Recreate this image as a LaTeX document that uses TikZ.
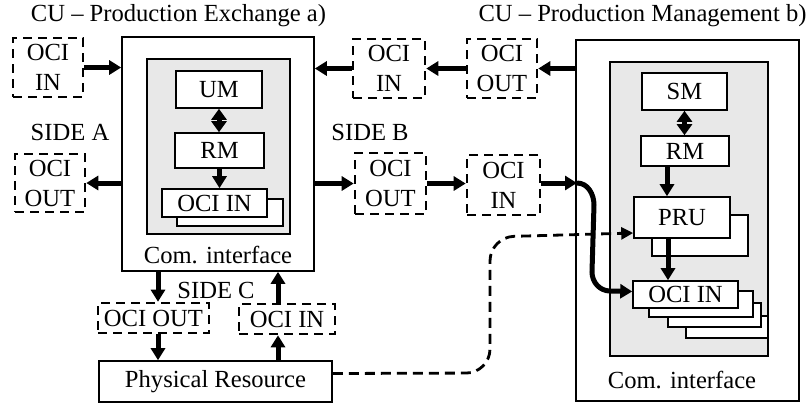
\documentclass[tikz,border=0pt]{standalone}
\usepackage{fontspec}
\setmainfont{Liberation Serif}
\usepackage{tikz}
\usetikzlibrary{arrows.meta}
\definecolor{ciGray}{HTML}{E8E8E8}
\tikzset{
  ociBox/.style={draw, line width=1.3pt, dash pattern=on 4.5pt off 3pt, inner sep=0pt, align=center},
  plainBox/.style={draw, line width=0.8pt, fill=white, inner sep=0pt},
  thickArrow/.style={line width=2.5pt, -{Triangle[length=6pt,width=7pt]}},
  bothArrow/.style={line width=2.5pt, {Triangle[length=5.5pt,width=7.5pt]}-{Triangle[length=5.5pt,width=7.5pt]}},
  dashArrow/.style={line width=1.4pt, dash pattern=on 5pt off 3pt, -{Triangle[length=6pt,width=6pt]}},
}

\begin{document}
\begin{tikzpicture}[x=0.5pt, y=-0.5pt, font=\fontsize{12.3}{15}\selectfont]
  \path[fill=white, use as bounding box] (0,0) rectangle (811,403);

  % Titles
  \node (titleA) at (178.5,16) {CU -- Production Exchange a)};
  \node (titleB) at (642.5,16) {CU -- Production Management b)};

  % CU a)
  \node[plainBox, minimum width=96pt, minimum height=117pt] (cuA) at (218,154) {};
  \node[plainBox, fill=ciGray, minimum width=71.5pt, minimum height=87.5pt] (areaA) at (218.5,146.5) {};
  \node[plainBox, minimum width=43pt, minimum height=18.5pt] (umA) at (219,89.5) {UM};
  \node[plainBox, minimum width=44.5pt, minimum height=17.5pt] (rmA) at (219.5,150.5) {RM};
  \node[plainBox, minimum width=53pt, minimum height=13.5pt] (ociBackA) at (230,212.5) {};
  \node[plainBox, minimum width=52.5pt, minimum height=14pt] (ociA) at (214.5,203) {OCI IN};
  \node (comA) at (218,255) {Com. interface};

  % Side A
  \node[ociBox, minimum width=35pt, minimum height=29.5pt] (inA) at (48,67.5) {OCI\\IN};
  \node (sideA) at (70,132) {SIDE A};
  \node[ociBox, minimum width=35pt, minimum height=29pt] (outA) at (50,183) {OCI\\OUT};

  % Side B
  \node[ociBox, minimum width=36pt, minimum height=29.5pt] (inTop) at (389,68.5) {OCI\\IN};
  \node[ociBox, minimum width=35pt, minimum height=29.5pt] (outTop) at (502,68.5) {OCI\\OUT};
  \node (sideB) at (370,132) {SIDE B};
  \node[ociBox, minimum width=35.5pt, minimum height=30.5pt] (outB) at (390.5,183.5) {OCI\\OUT};
  \node[ociBox, minimum width=36.5pt, minimum height=30pt] (inB) at (503.5,185) {OCI\\IN};

  % Side C
  \node (sideC) at (216,290) {SIDE C};
  \node[ociBox, minimum width=55.5pt, minimum height=15pt] (outC) at (153.5,318) {OCI OUT};
  \node[ociBox, minimum width=48pt, minimum height=15pt] (inC) at (287,319) {OCI IN};
  \node[plainBox, minimum width=116.5pt, minimum height=20.5pt] (res) at (215.5,381.5) {Physical Resource};

  % CU b)
  \node[plainBox, minimum width=111.5pt, minimum height=180.5pt] (cuB) at (687.5,220.5) {};
  \node[plainBox, fill=ciGray, minimum width=79pt, minimum height=147pt] (areaB) at (689,209) {};
  \node[plainBox, minimum width=42.5pt, minimum height=18.5pt] (smB) at (684.5,91.5) {SM};
  \node[plainBox, minimum width=44pt, minimum height=15pt] (rmB) at (685,151) {RM};
  \node[plainBox, minimum width=48pt, minimum height=20.5pt] (pruBackB) at (700,235.5) {};
  \node[plainBox, minimum width=48pt, minimum height=20.5pt] (pruB) at (682,217.5) {PRU};
  \node[plainBox, minimum width=41pt, minimum height=11pt] (ociBack3) at (727,327) {};
  \node[plainBox, minimum width=46.5pt, minimum height=12pt] (ociBack2) at (714.5,315) {};
  \node[plainBox, minimum width=52pt, minimum height=13pt] (ociBack1) at (701,304) {};
  \node[plainBox, minimum width=52.5pt, minimum height=13.5pt] (ociB) at (685.5,294.5) {OCI IN};
  \node (comB) at (682,380) {Com. interface};

  % Inner arrows
  \draw[bothArrow] (umA.south) -- (umA.south |- rmA.north);
  \draw[thickArrow] (rmA.south) -- (rmA.south |- ociA.north);
  \draw[bothArrow] (smB.south) -- (smB.south |- rmB.north);
  \coordinate (rmBout) at ([xshift=-9pt]rmB.south);
  \draw[thickArrow] (rmBout) -- (rmBout |- pruB.north);
  \coordinate (pruOut) at ([xshift=-7pt]pruB.south);
  \draw[thickArrow] (pruOut) -- (pruOut |- ociB.north);

  % Side A and B links
  \draw[thickArrow] (inA.east) -- (inA.east -| cuA.west);
  \draw[thickArrow] (cuA.west |- outA.east) -- (outA.east);
  \draw[thickArrow] (inTop.west) -- (inTop.west -| cuA.east);
  \draw[thickArrow] (outTop.west) -- (inTop.east);
  \draw[thickArrow] (cuB.west |- outTop.east) -- (outTop.east);
  \draw[thickArrow] (cuA.east |- outB.west) -- (outB.west);
  \draw[thickArrow] (outB.east) -- (inB.west |- outB.east);
  \coordinate (kink) at (577,183);
  \draw[thickArrow] (inB.east |- kink) -- (kink);
  \draw[thickArrow] (kink) to[out=0,in=90] (594,205) -- (592,272) to[out=-90,in=180] (610,291) -- ([yshift=1.5pt]ociB.west);

  % Side C links
  \coordinate (downC) at (158,0);
  \coordinate (upC) at (278,0);
  \draw[thickArrow] (cuA.south -| downC) -- (outC.north -| downC);
  \draw[thickArrow] (outC.south -| downC) -- (res.north -| downC);
  \draw[thickArrow] (res.north -| upC) -- (inC.south -| upC);
  \draw[thickArrow] (inC.north -| upC) -- (cuA.south -| upC);

  % Resource feedback
  \draw[dashArrow, rounded corners=12pt] ([yshift=4pt]res.east) -- (490,373) -- (490,237) -- ([yshift=-7.75pt]pruB.west);
\end{tikzpicture}
\end{document}
